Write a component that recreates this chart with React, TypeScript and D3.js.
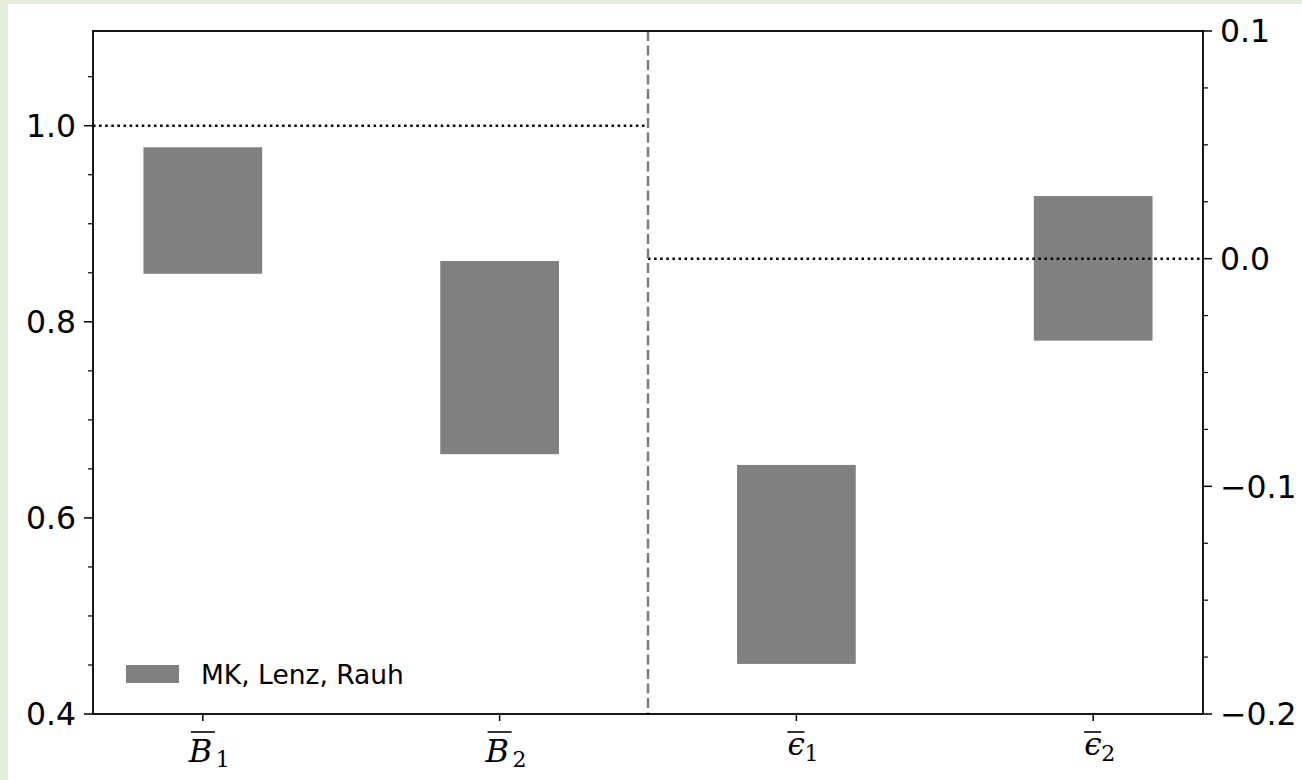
import React from 'react';
import * as d3 from 'd3';

const categories = ['B', 'B', 'ϵ', 'ϵ'];
const subscripts = ['1', '2', '1', '2'];
const barLow = [0.849, 0.665, -0.178, -0.036];
const barHigh = [0.978, 0.862, -0.0906, 0.0275];
const barAxis = ['left', 'left', 'right', 'right'];
const leftTicks = [0.4, 0.6, 0.8, 1.0];
const rightTicks = [-0.2, -0.1, 0.0, 0.1];
const leftRef = 1.0;
const rightRef = 0.0;
const dividerPos = 1.5;
const legendLabel = 'MK, Lenz, Rauh';

const W = 1302, H = 780;
const L = 93, R = 1203, T = 31, B = 714;

export default function App() {
  const x = d3.scaleLinear().domain([-0.37, 3.37]).range([L, R]);
  const yL = d3.scaleLinear().domain([0.4, 1.0966]).range([B, T]);
  const yR = d3.scaleLinear().domain([-0.2, 0.1]).range([B, T]);
  const barW = 0.4;

  const leftMinor = d3.range(0.45, 1.09, 0.05).filter(v => !leftTicks.some(t => Math.abs(t - v) < 1e-6));
  const rightMinor = d3.range(-0.175, 0.1, 0.025).filter(v => !rightTicks.some(t => Math.abs(t - v) < 1e-6));

  const fmt = (v: number) => d3.format('.1f')(v).replace('-', '\u2212');
  const tickFont = "'DejaVu Sans', sans-serif";

  return (
    <svg width={W} height={H} style={{ position: 'absolute', left: 0, top: 0 }}>
      <rect x={0} y={0} width={W} height={H} fill="#e2eed9" />
      <rect x={8} y={4} width={W - 8} height={H - 4} fill="#ffffff" />

      {categories.map((c, i) => {
        const y = barAxis[i] === 'left' ? yL : yR;
        const x0 = x(i - barW / 2), x1 = x(i + barW / 2);
        return (
          <rect key={i} x={x0} width={x1 - x0} y={y(barHigh[i])} height={y(barLow[i]) - y(barHigh[i])} fill="#808080" />
        );
      })}

      {/* reference lines */}
      <line x1={L} x2={x(dividerPos)} y1={yL(leftRef)} y2={yL(leftRef)} stroke="#000" strokeWidth={2.5} strokeDasharray="2.5,3.6" />
      <line x1={x(dividerPos)} x2={R} y1={yR(rightRef)} y2={yR(rightRef)} stroke="#000" strokeWidth={2.5} strokeDasharray="2.5,3.6" />
      <line x1={x(dividerPos)} x2={x(dividerPos)} y1={T} y2={B} stroke="#7a7a7a" strokeWidth={2.4} strokeDasharray="10,4.5" />

      {/* frame */}
      <rect x={L} y={T} width={R - L} height={B - T} fill="none" stroke="#000" strokeWidth={1.8} />

      {/* left ticks */}
      {leftTicks.map(t => (
        <g key={'l' + t}>
          <line x1={L - 9} x2={L} y1={yL(t)} y2={yL(t)} stroke="#000" strokeWidth={1.5} />
          <text x={L - 17} y={yL(t)} dy="0.36em" textAnchor="end" fontFamily={tickFont} fontSize={31.5}>{fmt(t)}</text>
        </g>
      ))}
      {leftMinor.map(t => (
        <line key={'lm' + t} x1={L - 5} x2={L} y1={yL(t)} y2={yL(t)} stroke="#000" strokeWidth={1.2} />
      ))}

      {/* right ticks */}
      {rightTicks.map(t => (
        <g key={'r' + t}>
          <line x1={R} x2={R + 9} y1={yR(t)} y2={yR(t)} stroke="#000" strokeWidth={1.5} />
          <text x={R + 17} y={yR(t)} dy="0.36em" textAnchor="start" fontFamily={tickFont} fontSize={31.5}>{fmt(t)}</text>
        </g>
      ))}
      {rightMinor.map(t => (
        <line key={'rm' + t} x1={R} x2={R + 5} y1={yR(t)} y2={yR(t)} stroke="#000" strokeWidth={1.2} />
      ))}

      {/* x ticks */}
      {categories.map((c, i) => {
        const cx = x(i);
        const isB = c === 'B';
        return (
          <g key={'x' + i}>
            <line x1={cx} x2={cx} y1={B} y2={B + 7} stroke="#000" strokeWidth={1.5} />
            <text x={cx - (isB ? 14 : 9)} y={isB ? 762 : 755} fontFamily="'DejaVu Serif', serif" fontStyle="italic" fontSize={isB ? 32 : 31}>{c}</text>
            <line x1={cx - (isB ? 12 : 9)} x2={cx + (isB ? 12 : 8)} y1={732} y2={732} stroke="#000" strokeWidth={1.6} />
            <text x={cx + (isB ? 13 : 8)} y={isB ? 767 : 761} fontFamily="'DejaVu Serif', serif" fontSize={22}>{subscripts[i]}</text>
          </g>
        );
      })}

      {/* legend */}
      <rect x={126} y={665} width={53} height={18} fill="#808080" />
      <text x={201} y={684} fontFamily={tickFont} fontSize={26.5}>{legendLabel}</text>
    </svg>
  );
}
